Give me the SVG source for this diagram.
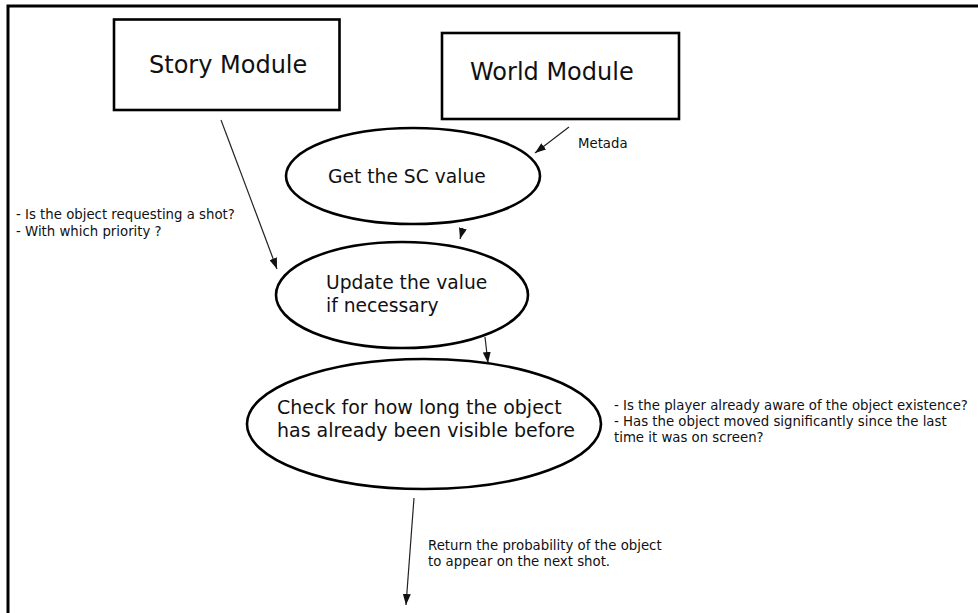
<svg xmlns="http://www.w3.org/2000/svg" width="978" height="613" viewBox="0 0 978 613">
<defs>
<style>
.box{fill:#fff;stroke:#000;stroke-width:2.6}
.ell{fill:#fff;stroke:#000;stroke-width:2.6}
.big{font-family:"DejaVu Sans",Verdana,sans-serif;font-size:24px;fill:#111}
.mid{font-family:"DejaVu Sans",Verdana,sans-serif;font-size:18.7px;fill:#111}
.chk{font-family:"DejaVu Sans",Verdana,sans-serif;font-size:19px;fill:#111}
.sm{font-family:"DejaVu Sans",Verdana,sans-serif;font-size:13.3px;fill:#111}
.con{fill:none;stroke:#222;stroke-width:1.2}
</style>
<marker id="ah" markerWidth="11" markerHeight="8" refX="11" refY="4" orient="auto" markerUnits="userSpaceOnUse">
<path d="M0,0 L11,4 L0,8 z" fill="#111"/>
</marker>
</defs>
<rect width="978" height="613" fill="#fff"/>
<path d="M8,613 V6 H978" fill="none" stroke="#000" stroke-width="3"/>

<g id="story">
<rect class="box" x="114" y="19.5" width="225.5" height="90.5"/>
<text class="big" x="149" y="73">Story Module</text>
</g>
<g id="world">
<rect class="box" x="442" y="33" width="237" height="86"/>
<text class="big" x="470" y="80">World Module</text>
</g>
<g id="getsc">
<ellipse class="ell" cx="413" cy="176" rx="127" ry="48"/>
<text class="mid" x="328" y="183">Get the SC value</text>
</g>
<g id="update">
<ellipse class="ell" cx="402" cy="295" rx="126" ry="53"/>
<text class="mid" x="326" y="289">Update the value</text>
<text class="mid" x="326" y="312">if necessary</text>
</g>
<g id="check">
<ellipse class="ell" cx="424" cy="424" rx="177" ry="65"/>
<text class="chk" x="277" y="414">Check for how long the object</text>
<text class="chk" x="277" y="437">has already been visible before</text>
</g>

<g id="connectors">
<path class="con" d="M221,120 L277,269" marker-end="url(#ah)"/>
<path class="con" d="M569,127 L535,153" marker-end="url(#ah)"/>
<path class="con" d="M463,228 L460,239" marker-end="url(#ah)"/>
<path class="con" d="M485,337 L488,363" marker-end="url(#ah)"/>
<path class="con" d="M414,498 L406,605" marker-end="url(#ah)"/>
</g>

<g id="labels">
<text class="sm" x="578" y="148">Metada</text>
<text class="sm" x="16" y="219">- Is the object requesting a shot?</text>
<text class="sm" x="16" y="236">- With which priority ?</text>
<text class="sm" x="614" y="410">- Is the player already aware of the object existence?</text>
<text class="sm" x="614" y="426">- Has the object moved significantly since the last</text>
<text class="sm" x="614" y="442">time it was on screen?</text>
<text class="sm" x="428" y="550">Return the probability of the object</text>
<text class="sm" x="428" y="566">to appear on the next shot.</text>
</g>
</svg>
